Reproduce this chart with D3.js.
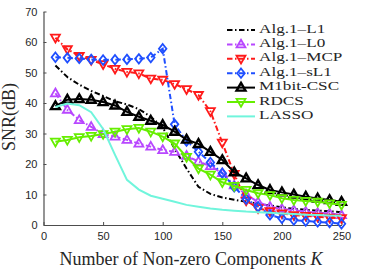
<!DOCTYPE html>
<html>
<head>
<meta charset="utf-8">
<script src="https://cdn.jsdelivr.net/npm/d3@7"></script>
<style>
  body { margin: 0; background: #fff; }
  svg { display: block; }
  .tick text { font-family: "Liberation Sans", Arial, sans-serif; font-size: 11px; fill: #262626; }
  .lbl { font-family: "Liberation Serif", "Times New Roman", serif; font-size: 18px; fill: #262626; }
  .leg { font-family: "Liberation Serif", "Times New Roman", serif; font-size: 13px; fill: #262626; }
</style>
</head>
<body>
<div id="chart"></div>
<script>
// number of non-zero components
const kVals = [10, 20, 30, 40, 50, 60, 70, 80, 90, 100, 110, 120, 130, 140, 150, 160, 170, 180, 190, 200, 210, 220, 230, 240, 250];

// SNR (dB) per method
const snrL1    = [52.3, 48.5, 46, 44, 42.3, 40.6, 39.5, 38, 35.5, 32, 25, 18.5, 12.5, 10.2, 9, 8.3, 7.6, 7, 6.4, 5.8, 5.3, 5, 4.7, 4.5, 4.2];
const snrL0    = [43.2, 37.8, 34.4, 32.2, 29.8, 29, 27.9, 26.7, 25.7, 24.6, 24, 22.7, 20.8, 19.3, 17, 13, 10, 7.5, 6, 5.3, 4.9, 4.4, 4, 3.8, 3.3];
const snrMCP   = [61.4, 57.6, 55.4, 54.1, 52.7, 51.2, 50.2, 49.7, 48, 47.6, 46.2, 44.5, 42.6, 37.3, 27, 16.7, 8, 5.5, 4.5, 3.8, 3.2, 3, 2.7, 2.4, 2.2];
const snrSL1   = [55, 54.8, 54.6, 54.3, 54.1, 54.2, 54.3, 54.5, 54.9, 57.8, 33, 27.5, 24, 20.5, 17, 12.5, 8.5, 6, 3.3, 2.2, 1.6, 1.3, 1, 0.8, 0.4];
const snrM1bit = [39, 41.1, 41.3, 41.1, 40.3, 39.2, 37.1, 35.5, 34.2, 32.8, 30.6, 28, 26.6, 24, 21.3, 17.3, 15.3, 13.1, 11.5, 10.7, 10, 9.3, 8.7, 8.2, 7.6];
const snrRDCS  = [27.3, 27.9, 28.8, 29.2, 29.8, 30.6, 31.4, 31.8, 30.6, 29, 26.7, 22.3, 18.5, 16.5, 14, 12.8, 11.5, 10.4, 9.8, 8.8, 8.2, 7.9, 7.6, 7.1, 6.6];
const snrLASSO = [38.7, 39.8, 39.3, 37, 31.5, 23, 14.8, 11.6, 9.6, 8.6, 7.6, 6.6, 6, 5.4, 5, 4.7, 4.4, 4.2, 4, 3.8, 3.6, 3.4, 3.3, 3.1, 3];

const seriesNames = ["Alg.1\u2013L1", "Alg.1\u2013L0", "Alg.1\u2013MCP", "Alg.1\u2013sL1", "M1bit-CSC", "RDCS", "LASSO"];
const xTicks = [0, 50, 100, 150, 200, 250];
const yTicks = [0, 10, 20, 30, 40, 50, 60, 70];

const w = 374, h = 272;
const dashDot = "5.5,2.5,1.5,2.5";

const series = [
  { name: seriesNames[0], vals: snrL1,    color: "#000000", dash: dashDot, marker: null },
  { name: seriesNames[1], vals: snrL0,    color: "#b847ff", dash: dashDot, marker: "up" },
  { name: seriesNames[2], vals: snrMCP,   color: "#ff1a1a", dash: dashDot, marker: "down" },
  { name: seriesNames[3], vals: snrSL1,   color: "#1f4fff", dash: dashDot, marker: "diamond" },
  { name: seriesNames[4], vals: snrM1bit, color: "#000000", dash: null,    marker: "up" },
  { name: seriesNames[5], vals: snrRDCS,  color: "#66ee00", dash: null,    marker: "down" },
  { name: seriesNames[6], vals: snrLASSO, color: "#70f5dc", dash: null,    marker: null }
];

const x = d3.scaleLinear().domain([0, 250]).range([43.5, 341.5]);
const y = d3.scaleLinear().domain([0, 70]).range([225, 11.5]);

const svg = d3.select("#chart").append("svg").attr("width", w).attr("height", h);

// axes (ticks pointing inward, no box)
const xAxis = d3.axisBottom(x).tickValues(xTicks).tickSizeInner(-3).tickSizeOuter(0).tickPadding(7);
const gx = svg.append("g").attr("transform", "translate(0," + y(0) + ")").call(xAxis);
const yAxis = d3.axisLeft(y).tickValues(yTicks).tickSizeInner(-3).tickSizeOuter(0).tickPadding(6);
const gy = svg.append("g").attr("transform", "translate(" + x(0) + ",0)").call(yAxis);
[gx, gy].forEach(g => {
  g.select(".domain").attr("stroke", "#4d4d4d").attr("stroke-width", 1.2);
  g.selectAll(".tick line").attr("stroke", "#4d4d4d");
});

function markerPath(type, r) {
  if (type === "up") return "M0," + (-r) + "L" + (r * 0.95) + "," + (r * 0.65) + "L" + (-r * 0.95) + "," + (r * 0.65) + "Z";
  if (type === "down") return "M0," + r + "L" + (r * 0.95) + "," + (-r * 0.65) + "L" + (-r * 0.95) + "," + (-r * 0.65) + "Z";
  return "M0," + (-r) + "L" + (r * 0.8) + ",0L0," + r + "L" + (-r * 0.8) + ",0Z";
}

const line = d3.line().x((d, i) => x(kVals[i])).y(d => y(d));

series.forEach(s => {
  const g = svg.append("g");
  g.append("path")
    .attr("d", line(s.vals))
    .attr("fill", "none")
    .attr("stroke", s.color)
    .attr("stroke-width", 2)
    .attr("stroke-dasharray", s.dash);
  if (s.marker) {
    g.selectAll("path.mk")
      .data(s.vals)
      .enter()
      .append("path")
      .attr("class", "mk")
      .attr("transform", (d, i) => "translate(" + x(kVals[i]) + "," + y(d) + ")")
      .attr("d", markerPath(s.marker, 4.7))
      .attr("fill", "none")
      .attr("stroke", s.color)
      .attr("stroke-width", s.color === "#000000" ? 2.4 : 1.8);
  }
});

// axis labels
svg.append("text")
  .attr("class", "lbl")
  .attr("text-anchor", "middle")
  .attr("transform", "translate(15," + 117 + ")rotate(-90)")
  .text("SNR(dB)");

const xl = svg.append("text")
  .attr("class", "lbl")
  .attr("text-anchor", "middle")
  .attr("x", 191)
  .attr("y", 265);
xl.append("tspan").text("Number of Non-zero Components ");
xl.append("tspan").style("font-style", "italic").text("K");

// legend
const legend = svg.selectAll(".legend")
  .data(series)
  .enter()
  .append("g")
  .attr("class", "legend")
  .attr("transform", (d, i) => "translate(0," + (30 + i * 14.4) + ")");

legend.append("line")
  .attr("x1", 227).attr("x2", 255).attr("y1", 0).attr("y2", 0)
  .attr("stroke", d => d.color)
  .attr("stroke-width", 2)
  .attr("stroke-dasharray", d => d.dash);

legend.filter(d => d.marker)
  .append("path")
  .attr("transform", "translate(241,0)")
  .attr("d", d => markerPath(d.marker, 4.7))
  .attr("fill", "none")
  .attr("stroke", d => d.color)
  .attr("stroke-width", d => d.color === "#000000" ? 2.4 : 1.8);

legend.append("text")
  .attr("class", "leg")
  .attr("transform", "translate(259,2.5) scale(1.32,1)")
  .text(d => d.name);
</script>
</body>
</html>
